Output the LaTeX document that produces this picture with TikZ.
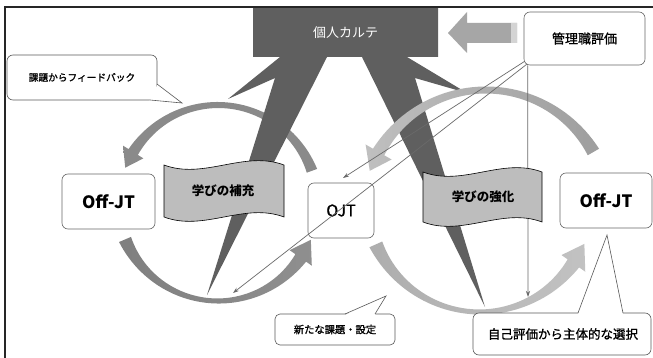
\documentclass[tikz,border=0pt]{standalone}
\usepackage{fontspec}
\newfontfamily\jp{Noto Sans CJK JP}
\newfontfamily\jpm[FakeBold=1.2]{Noto Sans CJK JP}
\usetikzlibrary{arrows.meta,calc}
\definecolor{darkshape}{HTML}{5F5F5F}
\definecolor{bannerfill}{HTML}{BDBDBD}
\definecolor{arrowgray}{HTML}{A6A6A6}
\definecolor{arrowlight}{HTML}{D4D4D4}
\definecolor{connline}{HTML}{6A6A6A}
% curved tapered arrow: #1 fill opts, #2 cx, #3 cy, #4 r, #5 start, #6 end, #7 mid width, #8 end width, #9 head width
\newcommand\carrow[9]{%
  \pgfmathsetmacro\caM{(#5+#6)/2}%
  \pgfmathsetmacro\caH{(#6-#5)/2}%
  \pgfmathsetmacro\caL{1.6*#8}%
  \pgfmathsetmacro\caT{#6+\caL/#4*180/pi}%
  \path[#1] plot[domain=#5:#6,samples=50,variable=\x]
    ({#2+(#4+0.5*(#7+(#8-#7)*((\x-\caM)/\caH)*((\x-\caM)/\caH)))*cos(\x)},
     {#3-(#4+0.5*(#7+(#8-#7)*((\x-\caM)/\caH)*((\x-\caM)/\caH)))*sin(\x)})
    -- ({#2+(#4+#9/2)*cos(#6)},{#3-(#4+#9/2)*sin(#6)})
    -- ({#2+#4*cos(\caT)},{#3-#4*sin(\caT)})
    -- ({#2+(#4-#9/2)*cos(#6)},{#3-(#4-#9/2)*sin(#6)})
    -- plot[domain=#6:#5,samples=50,variable=\x]
    ({#2+(#4-0.5*(#7+(#8-#7)*((\x-\caM)/\caH)*((\x-\caM)/\caH)))*cos(\x)},
     {#3-(#4-0.5*(#7+(#8-#7)*((\x-\caM)/\caH)*((\x-\caM)/\caH)))*sin(\x)})
    -- cycle;
}
% wave banner: #1 x0, #2 x1, #3 top y, #4 bottom y
\newcommand\wavebanner[4]{%
  \pgfmathsetmacro\wbA{#1+(#2-#1)/3}%
  \pgfmathsetmacro\wbB{#1+2*(#2-#1)/3}%
  \draw[bannerstyle] (#1,#3) .. controls (\wbA,#3+15) and (\wbB,#3-15) .. (#2,#3)
    -- (#2,#4) .. controls (\wbB,#4-15) and (\wbA,#4+15) .. (#1,#4) -- cycle;
}
\tikzset{
  box/.style={draw=black!60, line width=0.6pt, rounded corners=6pt, fill=white, inner sep=0pt},
  callout/.style={draw=black!65, line width=0.6pt, fill=white},
  calloutline/.style={draw=black!65, line width=0.6pt},
  bannerstyle/.style={draw=black, line width=0.6pt, fill=bannerfill},
  conn/.style={draw=connline, line width=0.7pt, -{Stealth[length=6pt,width=4pt]}},
  offfont/.style={font={\jp\bfseries\fontsize{17}{17}\selectfont}},
  bannerfont/.style={font={\jp\bfseries\fontsize{12.5}{12.5}\selectfont}},
}
\begin{document}
\begin{tikzpicture}[x=1pt,y=-1pt]
\useasboundingbox (0,0) rectangle (653,358);
\clip (0,0) rectangle (653,358);
\fill[white] (0,0) rectangle (653,358);

% left arcs (behind the dark shape)
\carrow{left color=black!46, middle color=black!22, right color=black!46}{218}{205}{100}{20}{148}{6}{11}{24}
\carrow{left color=black!50, middle color=black!24, right color=black!44}{218}{200}{101}{203}{325}{5}{13}{27}

% dark callout shape
\fill[darkshape] (253,7) -- (438,7) -- (438,57) -- (407,57) -- (467,93) -- (415,78)
  -- (485,307) -- (362,57) -- (327,57) -- (207,295) -- (275,78) -- (228,99)
  -- (280,57) -- (253,57) -- cycle;
\node[font={\jp\fontsize{13}{13}\selectfont}, text=white] (karte) at (345.5,33) {個人カルテ};

% right arcs (in front of the dark shape)
\carrow{left color=black!25, middle color=black!22, right color=black!38}{486}{214}{124}{30}{150}{7}{13}{30}
\carrow{left color=black!32, middle color=black!14, right color=black!24}{480}{198}{114}{204}{325}{5}{14}{29}

% block arrow
\fill[arrowgray] (448,33) -- (467,12) -- (467,23) -- (517,23) -- (517,43) -- (467,43) -- (467,53) -- cycle;
\fill[arrowlight] (511,23) rectangle (517,43);

% boxes
\node[box, offfont, minimum width=93pt, minimum height=55pt] (offl) at (108.5,201.5) {Off-JT};
\node[box, font={\jpm\fontsize{16}{16}\selectfont}, minimum width=66pt, minimum height=55pt] (ojt) at (341,210.5) {OJT};
\node[box, offfont, minimum width=92pt, minimum height=55pt] (offr) at (606,200.5) {Off-JT};
\node[box, font={\jpm\fontsize{13}{13}\selectfont}, minimum width=121pt, minimum height=53pt] (mg) at (584.5,38.5) {管理職評価};

% callout 1
\draw[callout, rounded corners=6pt] (7,55) rectangle (157,100);
\fill[white] (158,83.5) -- (182,103) -- (149.5,101) -- cycle;
\draw[calloutline] (157,84) -- (182,103) -- (150,100);
\node[font={\jpm\fontsize{9.7}{9.7}\selectfont}] (fb) at (82,77.5) {課題からフィードバック};

% callout 2
\draw[callout, rounded corners=5pt] (275,314) rectangle (395,345);
\fill[white] (345,315) -- (386,296) -- (375,315) -- cycle;
\draw[calloutline] (345,314) -- (386,296) -- (375,314);
\node[font={\jpm\fontsize{10.3}{10.3}\selectfont}] (nk) at (335,329.5) {新たな課題・設定};

% callout 3
\draw[callout, rounded corners=6pt] (473,313) rectangle (651,355);
\fill[white] (578,314) -- (607,235) -- (623,314) -- cycle;
\draw[calloutline] (578,313) -- (607,235) -- (623,313);
\node[font={\jpm\fontsize{12.5}{12.5}\selectfont}] (js) at (563,334) {自己評価から主体的な選択};

% connectors from 管理職評価
\coordinate (m1) at ($(mg.south west)+(1,-4)$);
\coordinate (m2) at ($(mg.south west)+(3,-1)$);
\coordinate (m3) at ($(mg.south west)+(4,0)$);
\coordinate (tA) at (233,293);
\coordinate (tB) at (343,178);
\coordinate (tC) at (528,297);
\draw[conn] (m1) -- (tB);
\draw[conn] (m2) -- (tA);
\draw[conn] (m3) -- (tC);

% banners
\wavebanner{164}{284}{165}{217}
\node[bannerfont] (b1) at (223,191) {学びの補充};
\wavebanner{423}{542}{172}{222}
\node[bannerfont] (b2) at (483,197) {学びの強化};

% frame
\draw[black!85, line width=1.5pt] (5,370) -- (5,7) -- (670,7);
\end{tikzpicture}
\end{document}
